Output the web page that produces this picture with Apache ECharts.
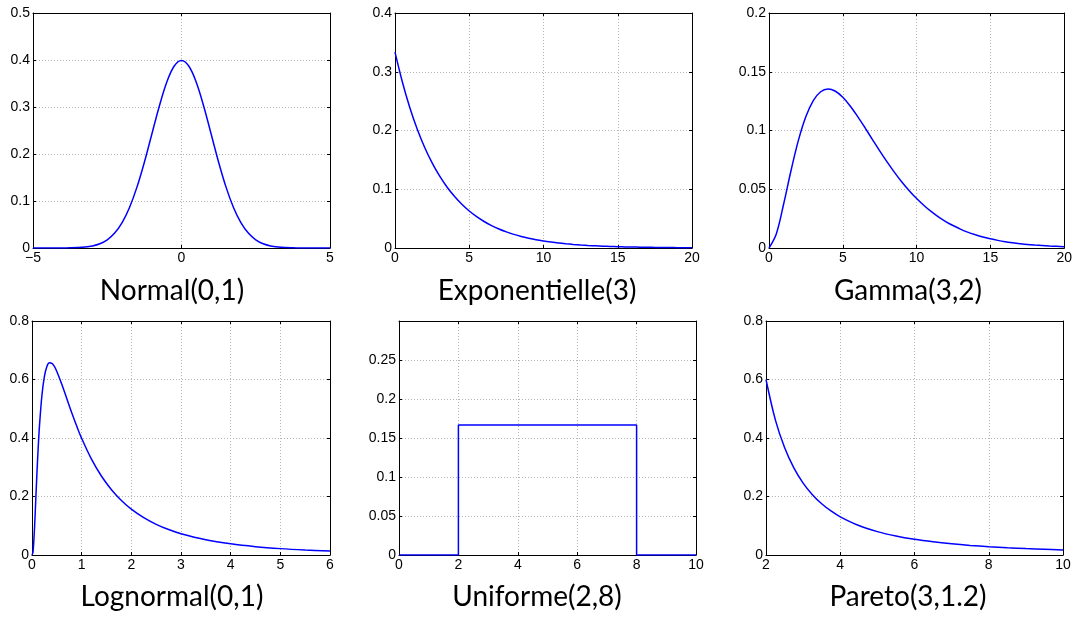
<!DOCTYPE html>
<html>
<head>
<meta charset="utf-8">
<script src="https://cdn.jsdelivr.net/npm/echarts@6/dist/echarts.min.js"></script>
<style>
html,body{margin:0;padding:0;background:#fff;}
#chart{width:1075px;height:619px;}
</style>
</head>
<body>
<div id="chart"></div>
<script>
// ---- Data ----
const titles = ['Normal(0,1)', 'Exponentielle(3)', 'Gamma(3,2)', 'Lognormal(0,1)', 'Uniforme(2,8)', 'Pareto(3,1.2)'];

const normalX = [-5,-4.75,-4.5,-4.25,-4,-3.75,-3.5,-3.25,-3,-2.75,-2.5,-2.25,-2,-1.75,-1.5,-1.25,-1,-0.75,-0.5,-0.25,0,0.25,0.5,0.75,1,1.25,1.5,1.75,2,2.25,2.5,2.75,3,3.25,3.5,3.75,4,4.25,4.5,4.75,5];
const normalY = [0,0,0,0,0.0001,0.0004,0.0009,0.0020,0.0044,0.0091,0.0175,0.0317,0.0540,0.0863,0.1295,0.1826,0.2420,0.3011,0.3521,0.3867,0.3989,0.3867,0.3521,0.3011,0.2420,0.1826,0.1295,0.0863,0.0540,0.0317,0.0175,0.0091,0.0044,0.0020,0.0009,0.0004,0.0001,0,0,0,0];

const expoX = [0,0.5,1,1.5,2,2.5,3,3.5,4,4.5,5,5.5,6,6.5,7,7.5,8,8.5,9,9.5,10,10.5,11,11.5,12,12.5,13,13.5,14,14.5,15,15.5,16,16.5,17,17.5,18,18.5,19,19.5,20];
const expoY = [0.3333,0.2822,0.2388,0.2022,0.1711,0.1449,0.1226,0.1038,0.0879,0.0744,0.0630,0.0533,0.0451,0.0382,0.0323,0.0274,0.0232,0.0196,0.0166,0.0140,0.0119,0.0101,0.0085,0.0072,0.0061,0.0052,0.0044,0.0037,0.0031,0.0027,0.0022,0.0019,0.0016,0.0014,0.0012,0.0010,0.0008,0.0007,0.0006,0.0005,0.0004];

const gammaX = [0,0.5,1,1.5,2,2.5,3,3.5,4,4.5,5,5.5,6,6.5,7,7.5,8,8.5,9,9.5,10,10.5,11,11.5,12,12.5,13,13.5,14,14.5,15,15.5,16,16.5,17,17.5,18,18.5,19,19.5,20];
const gammaY = [0,0.0122,0.0379,0.0664,0.0920,0.1119,0.1255,0.1330,0.1353,0.1334,0.1283,0.1209,0.1120,0.1024,0.0925,0.0827,0.0733,0.0644,0.0562,0.0488,0.0421,0.0362,0.0309,0.0263,0.0223,0.0189,0.0159,0.0133,0.0112,0.0093,0.0078,0.0065,0.0054,0.0045,0.0037,0.0030,0.0025,0.0021,0.0017,0.0014,0.0011];

const lognX = [0,0.02,0.05,0.075,0.1,0.125,0.15,0.2,0.25,0.3,0.35,0.4,0.45,0.5,0.6,0.7,0.8,0.9,1,1.2,1.4,1.6,1.8,2,2.25,2.5,2.75,3,3.5,4,4.5,5,5.5,6];
const lognY = [0,0.0095,0.0898,0.1857,0.2816,0.3673,0.4398,0.5463,0.6104,0.6442,0.6569,0.6555,0.6445,0.6275,0.5836,0.5348,0.4864,0.4408,0.3989,0.3270,0.2693,0.2233,0.1865,0.1569,0.1276,0.1049,0.0870,0.0727,0.0520,0.0382,0.0286,0.0218,0.0170,0.0134];

const unifX = [0,2,2,8,8,10];
const unifY = [0,0,0.1667,0.1667,0,0];

const paretoX = [2,2.25,2.5,2.75,3,3.25,3.5,3.75,4,4.5,5,5.5,6,6.5,7,7.5,8,8.5,9,9.5,10];
const paretoY = [0.6,0.4630,0.3673,0.2978,0.2459,0.2062,0.1752,0.1505,0.1306,0.1008,0.0799,0.0648,0.0535,0.0449,0.0381,0.0327,0.0284,0.0249,0.0219,0.0195,0.0174];

// axis ranges: [min, max, step]
const xRanges = [[-5,5,5],[0,20,5],[0,20,5],[0,6,1],[0,10,2],[2,10,2]];
const yRanges = [[0,0.5,0.1],[0,0.4,0.1],[0,0.2,0.05],[0,0.8,0.2],[0,0.3,0.05],[0,0.8,0.2]];
const hideYMax = [false,false,false,false,true,false];

const seriesX = [normalX, expoX, gammaX, lognX, unifX, paretoX];
const seriesY = [normalY, expoY, gammaY, lognY, unifY, paretoY];
const smoothFlag = [true,true,true,true,false,true];

// ---- Layout ----
const grids = [
  {left:33, top:13, width:297, height:235},
  {left:395, top:13, width:297, height:235},
  {left:769, top:13, width:298, height:235},
  {left:32, top:321, width:298, height:234},
  {left:399, top:321, width:297, height:234},
  {left:766, top:321, width:297, height:234}
];
const titlePos = [[172,291],[537,291],[908,291],[172,597],[537,597],[908,597]];

const tickFont = {fontFamily:'Liberation Sans, Arial, sans-serif', fontSize:14, color:'#000'};
const lineBlack = {show:true, onZero:false, lineStyle:{color:'#000', width:1}};
const gridLine = {show:true, lineStyle:{color:'#b4b4b4', width:1, type:[1,2]}};
const tickIn = {show:true, inside:true, length:3, lineStyle:{color:'#000'}};

const option = {
  animation:false,
  backgroundColor:'#fff',
  grid: grids.map(g => Object.assign({containLabel:false}, g)),
  xAxis: [], yAxis: [], series: [],
  graphic: titles.map((t,i) => ({
    type:'text', x:titlePos[i][0], y:titlePos[i][1],
    style:{text:t, fontFamily:'Lato, sans-serif', fontSize:28, fill:'#000', align:'center', verticalAlign:'middle'}
  }))
};

for (let i = 0; i < 6; i++) {
  const [xmin,xmax,xs] = xRanges[i];
  const [ymin,ymax,ys] = yRanges[i];
  option.xAxis.push({
    type:'value', gridIndex:i, position:'bottom', min:xmin, max:xmax, interval:xs,
    axisLine:lineBlack, axisTick:tickIn,
    axisLabel:Object.assign({margin:3, formatter: v => String(v).replace('-', '\u2212')}, tickFont),
    splitLine:gridLine
  });
  option.xAxis.push({
    type:'value', gridIndex:i, position:'top', min:xmin, max:xmax, interval:xs,
    axisLine:lineBlack, axisTick:tickIn,
    axisLabel:{show:false}, splitLine:{show:false}
  });
  option.yAxis.push({
    type:'value', gridIndex:i, position:'left', min:ymin, max:ymax, interval:ys,
    axisLine:lineBlack, axisTick:tickIn,
    axisLabel:Object.assign({margin:3, showMaxLabel: !hideYMax[i]}, tickFont),
    splitLine:gridLine
  });
  option.yAxis.push({
    type:'value', gridIndex:i, position:'right', min:ymin, max:ymax, interval:ys,
    axisLine:lineBlack, axisTick:tickIn,
    axisLabel:{show:false}, splitLine:{show:false}
  });
  option.series.push({
    type:'line', xAxisIndex:2*i, yAxisIndex:2*i,
    data: seriesX[i].map((x,k) => [x, seriesY[i][k]]),
    showSymbol:false, symbol:'none',
    smooth: smoothFlag[i] ? 0.35 : false,
    lineStyle:{color:'#0000ff', width:1.5},
    z:5
  });
}

const chart = echarts.init(document.getElementById('chart'), null, {renderer:'canvas'});
chart.setOption(option);
</script>
</body>
</html>
